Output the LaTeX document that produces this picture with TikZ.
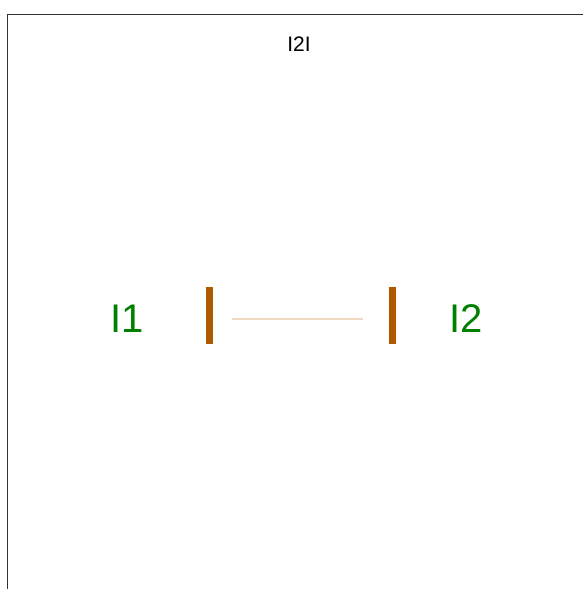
\documentclass[tikz,border=0pt]{standalone}
\usepackage{fontspec}
\setmainfont{Liberation Sans}
\definecolor{barc}{HTML}{B05A00}
\definecolor{linkc}{HTML}{EED9C0}
\definecolor{labc}{HTML}{008000}
\definecolor{framec}{HTML}{333333}
\begin{document}
\begin{tikzpicture}[x=1pt,y=-1pt,
  bar/.style={draw=none,fill=barc,minimum width=7pt,minimum height=57pt,inner sep=0pt},
  lab/.style={text=labc,font=\fontsize{40}{46}\selectfont,inner sep=0pt},
  ttl/.style={text=black,font=\fontsize{21}{25}\selectfont,inner sep=0pt},
  link/.style={draw=linkc,line width=2pt}]
\useasboundingbox (0,0) rectangle (583,589);
\fill[white] (0,0) rectangle (583,589);
\draw[framec,line width=1pt] (7.5,600) -- (7.5,14.5) -- (600,14.5);
\node[ttl] (title) at (299,44) {I2I};
\node[bar] (b1) at (209.5,315.5) {};
\node[bar] (b2) at (392.5,315.5) {};
\coordinate (l1) at (232,318.5);
\coordinate (l2) at (363,318.5);
\draw[link] (l1) -- (l2);
\node[lab] (i1) at (127,318.5) {I1};
\node[lab] (i2) at (466.5,318.5) {I2};
\end{tikzpicture}
\end{document}
